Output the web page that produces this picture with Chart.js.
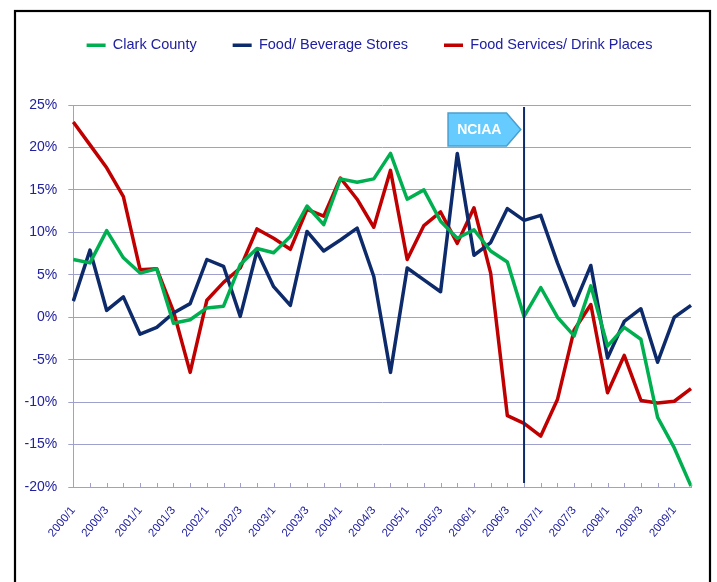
<!DOCTYPE html>
<html>
<head>
<meta charset="utf-8">
<script src="https://cdn.jsdelivr.net/npm/chart.js@4"></script>
<style>
  html, body { margin: 0; padding: 0; background: #fff; }
  canvas { display: block; }
</style>
</head>
<body>
<canvas id="myLineChart" width="717" height="582"></canvas>
<script>
var quarters = [
  "2000/1", "2000/2", "2000/3", "2000/4", "2001/1", "2001/2", "2001/3", "2001/4",
  "2002/1", "2002/2", "2002/3", "2002/4", "2003/1", "2003/2", "2003/3", "2003/4",
  "2004/1", "2004/2", "2004/3", "2004/4", "2005/1", "2005/2", "2005/3", "2005/4",
  "2006/1", "2006/2", "2006/3", "2006/4", "2007/1", "2007/2", "2007/3", "2007/4",
  "2008/1", "2008/2", "2008/3", "2008/4", "2009/1", "2009/2",
];

var clarkCounty = [
  6.8, 6.4, 10.2, 7.0, 5.2, 5.7, -0.7, -0.3, 1.1, 1.3, 6.2, 8.1, 7.6, 9.5, 13.1, 10.9,
  16.3, 15.9, 16.3, 19.3, 13.9, 15.0, 11.3, 9.3, 10.3, 7.8, 6.5, 0.1, 3.5, 0.0, -2.2, 3.7,
  -3.4, -1.2, -2.6, -11.8, -15.4, -19.9,
];

var foodBeverage = [
  1.9, 7.9, 0.8, 2.4, -2.0, -1.2, 0.5, 1.6, 6.8, 6.0, 0.1, 7.8, 3.6, 1.4, 10.1, 7.8,
  9.1, 10.5, 4.8, -6.5, 5.8, 4.4, 3.0, 19.3, 7.3, 8.8, 12.8, 11.4, 12.0, 6.4, 1.4, 6.1,
  -4.8, -0.5, 1.0, -5.3, 0.0, 1.4,
];

var foodServices = [
  23.0, 20.3, 17.6, 14.2, 5.6, 5.7, 0.7, -6.5, 2.0, 4.1, 5.8, 10.4, 9.3, 8.0, 12.7, 11.9,
  16.4, 13.9, 10.6, 17.3, 6.8, 10.8, 12.4, 8.7, 12.9, 5.2, -11.6, -12.5, -14.0, -9.7, -1.5, 1.5,
  -8.9, -4.5, -9.8, -10.1, -9.9, -8.4,
];

var seriesNames = ["Clark County", "Food/ Beverage Stores", "Food Services/ Drink Places"];
var markerIndex = 27;
var markerText = "NCIAA";

var textColor = "#2020a0";
var gridColor = "#a0a0cc";
var fontFamily = "'Liberation Sans', Arial, sans-serif";

// black frame round the picture
var framePlugin = {
  id: "frame",
  beforeDraw: function (chart) {
    var ctx = chart.ctx;
    ctx.save();
    ctx.fillStyle = "#fff";
    ctx.fillRect(0, 0, chart.width, chart.height);
    ctx.strokeStyle = "#000";
    ctx.lineWidth = 2.2;
    ctx.strokeRect(15, 11, 695, 620);
    ctx.restore();
  },
};

// tick marks on the x axis point up into the plot
var innerTicksPlugin = {
  id: "innerTicks",
  afterDraw: function (chart) {
    var ctx = chart.ctx;
    var x = chart.scales.x;
    var bottom = chart.chartArea.bottom;
    ctx.save();
    ctx.strokeStyle = gridColor;
    ctx.lineWidth = 1;
    for (var i = 0; i < quarters.length; i++) {
      var px = Math.round(x.getPixelForValue(i)) + 0.5;
      ctx.beginPath();
      ctx.moveTo(px, bottom - 4);
      ctx.lineTo(px, bottom);
      ctx.stroke();
    }
    ctx.restore();
  },
};

// vertical marker line with arrow label
var markerPlugin = {
  id: "marker",
  afterDatasetsDraw: function (chart) {
    var ctx = chart.ctx;
    var area = chart.chartArea;
    var lx = chart.scales.x.getPixelForValue(markerIndex);
    ctx.save();
    ctx.strokeStyle = "#0d2a6b";
    ctx.lineWidth = 2;
    ctx.beginPath();
    ctx.moveTo(lx, area.top + 2);
    ctx.lineTo(lx, area.bottom - 4);
    ctx.stroke();

    var left = lx - 76, right = lx - 17.5, tip = lx - 3.3;
    var top = area.top + 8, bottom = area.top + 41, mid = (top + bottom) / 2;
    ctx.beginPath();
    ctx.moveTo(left, top);
    ctx.lineTo(right, top);
    ctx.lineTo(tip, mid);
    ctx.lineTo(right, bottom);
    ctx.lineTo(left, bottom);
    ctx.closePath();
    ctx.fillStyle = "#66ccff";
    ctx.fill();
    ctx.strokeStyle = "#4a9fd0";
    ctx.lineWidth = 1.5;
    ctx.stroke();

    ctx.fillStyle = "#fff";
    ctx.font = "bold 14px " + fontFamily;
    ctx.textAlign = "center";
    ctx.textBaseline = "middle";
    ctx.fillText(markerText, (left + right) / 2 + 2, mid + 1);
    ctx.restore();
  },
};

// fix the legend height so the plot starts where it should
var legendHeightPlugin = {
  id: "legendHeight",
  beforeInit: function (chart) {
    var fit = chart.legend.fit;
    chart.legend.fit = function () {
      fit.call(this);
      this.height = 103;
    };
  },
  afterLayout: function (chart) {
    chart.legend.left += 24;
    chart.legend.right += 24;
  },
};

function makeDataset(name, values, color) {
  return {
    label: name,
    data: values,
    borderColor: color,
    backgroundColor: color,
    borderWidth: 3.5,
    pointRadius: 0,
    tension: 0,
    borderJoinStyle: "round",
  };
}

var ctx = document.getElementById("myLineChart");

var lineChartConfig = {
  type: "line",
  data: {
    labels: quarters,
    datasets: [
      makeDataset(seriesNames[0], clarkCounty, "#00b050"),
      makeDataset(seriesNames[1], foodBeverage, "#0d2a6b"),
      makeDataset(seriesNames[2], foodServices, "#c00000"),
    ],
  },
  options: {
    responsive: false,
    animation: false,
    layout: { padding: { left: 0, right: 26, top: 2, bottom: 0 } },
    plugins: {
      tooltip: { enabled: false },
      legend: {
        position: "top",
        labels: {
          usePointStyle: true,
          pointStyle: "line",
          pointStyleWidth: 19,
          boxHeight: 14.5,
          padding: 36,
          color: textColor,
          font: { family: fontFamily, size: 14.5 },
        },
      },
    },
    scales: {
      x: {
        offset: false,
        grid: { display: false, drawTicks: false },
        border: { display: true, color: gridColor, width: 1 },
        ticks: {
          autoSkip: false,
          maxRotation: 50,
          minRotation: 50,
          padding: 17,
          color: textColor,
          font: { family: fontFamily, size: 11.5 },
          callback: function (value, index) {
            return index % 2 === 0 ? quarters[index] : "";
          },
        },
        afterFit: function (scale) {
          scale.height = 95;
          scale.paddingRight = 0;
          scale.paddingLeft = 0;
        },
      },
      y: {
        min: -20,
        max: 25,
        grid: { color: gridColor, lineWidth: 1, tickLength: 5 },
        border: { display: true, color: gridColor, width: 1 },
        ticks: {
          stepSize: 5,
          padding: 11,
          color: textColor,
          font: { family: fontFamily, size: 14 },
          callback: function (value) {
            return value + "%";
          },
        },
        afterFit: function (scale) {
          scale.width = 73.3;
        },
      },
    },
  },
  plugins: [framePlugin, legendHeightPlugin, markerPlugin, innerTicksPlugin],
};

var lineChart = new Chart(ctx, lineChartConfig);
</script>
</body>
</html>
